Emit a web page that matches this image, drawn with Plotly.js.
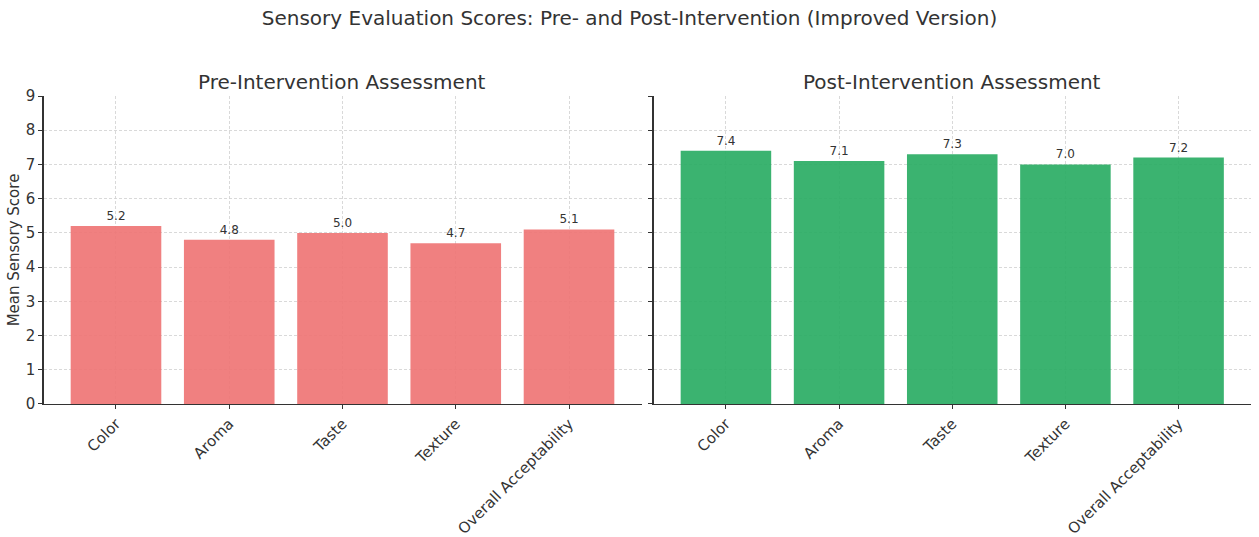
<!DOCTYPE html>
<html>
<head>
<meta charset="utf-8">
<script src="https://cdn.plot.ly/plotly-3.0.1.min.js"></script>
<style>html,body{margin:0;padding:0;background:#fff;}#chart{width:1259px;height:537px;}</style>
</head>
<body>
<div id="chart"></div>
<script>
var categories = ["Color", "Aroma", "Taste", "Texture", "Overall Acceptability"];
var preScores = [5.2, 4.8, 5.0, 4.7, 5.1];
var postScores = [7.4, 7.1, 7.3, 7.0, 7.2];
var yTicks = [0, 1, 2, 3, 4, 5, 6, 7, 8, 9];

var FONT = "DejaVu Sans, sans-serif";
var TXT = "#333333";

var traces = [
  {
    type: "bar", x: categories, y: preScores, xaxis: "x", yaxis: "y",
    width: 0.8,
    marker: {color: "rgba(238,114,114,0.9)", line: {width: 0}},
    text: preScores.map(function(v){return v.toFixed(1);}),
    textposition: "outside", cliponaxis: false,
    textfont: {family: FONT, size: 12, color: TXT},
    hoverinfo: "x+y"
  },
  {
    type: "bar", x: categories, y: postScores, xaxis: "x2", yaxis: "y2",
    width: 0.8,
    marker: {color: "rgba(38,171,97,0.9)", line: {width: 0}},
    text: postScores.map(function(v){return v.toFixed(1);}),
    textposition: "outside", cliponaxis: false,
    textfont: {family: FONT, size: 12, color: TXT},
    hoverinfo: "x+y"
  }
];

var gridStyle = {
  showgrid: true, gridcolor: "#d0d0d0", gridwidth: 0.8, griddash: "3px,2px"
};

function xax(domain, anchor) {
  return Object.assign({
    domain: domain, anchor: anchor,
    range: [-0.64, 4.64],
    tickangle: -45,
    ticks: "outside", ticklen: 4, tickwidth: 1, tickcolor: "#333",
    showline: true, linecolor: "#333", linewidth: 1.2,
    tickfont: {family: FONT, size: 15, color: TXT},
    zeroline: false, fixedrange: true
  }, gridStyle);
}
function yax(anchor, showLabels) {
  return Object.assign({
    domain: [0.2477, 0.8212], anchor: anchor,
    range: [0, 9], tickvals: yTicks,
    showticklabels: showLabels,
    ticks: "outside", ticklen: 4, tickwidth: 1, tickcolor: "#333",
    showline: true, linecolor: "#333", linewidth: 1.2,
    tickfont: {family: FONT, size: 15, color: TXT},
    zeroline: false, fixedrange: true
  }, gridStyle);
}

var yax1 = yax("x", true);
yax1.title = {text: "Mean Sensory Score", font: {family: FONT, size: 15, color: TXT}, standoff: 2};

var layout = {
  width: 1259, height: 537,
  margin: {l: 0, r: 0, t: 0, b: 0},
  paper_bgcolor: "#ffffff", plot_bgcolor: "#ffffff",
  showlegend: false,
  bargap: 0.2,
  title: {
    text: "Sensory Evaluation Scores: Pre- and Post-Intervention (Improved Version)",
    font: {family: FONT, size: 20, color: TXT},
    x: 0.5, xanchor: "center", y: 0.966, yanchor: "middle"
  },
  xaxis: xax([43.5/1259, 641.5/1259], "y"),
  yaxis: yax1,
  xaxis2: xax([653.5/1259, 1251/1259], "y2"),
  yaxis2: yax("x2", false),
  annotations: [
    {text: "Pre-Intervention Assessment", xref: "paper", yref: "paper",
     x: (43.5 + 641.5) / 2 / 1259, y: 1 - 82/537, xanchor: "center", yanchor: "middle",
     showarrow: false, font: {family: FONT, size: 20, color: TXT}},
    {text: "Post-Intervention Assessment", xref: "paper", yref: "paper",
     x: (653.5 + 1251) / 2 / 1259, y: 1 - 82/537, xanchor: "center", yanchor: "middle",
     showarrow: false, font: {family: FONT, size: 20, color: TXT}}
  ]
};

Plotly.newPlot("chart", traces, layout, {displayModeBar: false, staticPlot: true});
</script>
</body>
</html>
